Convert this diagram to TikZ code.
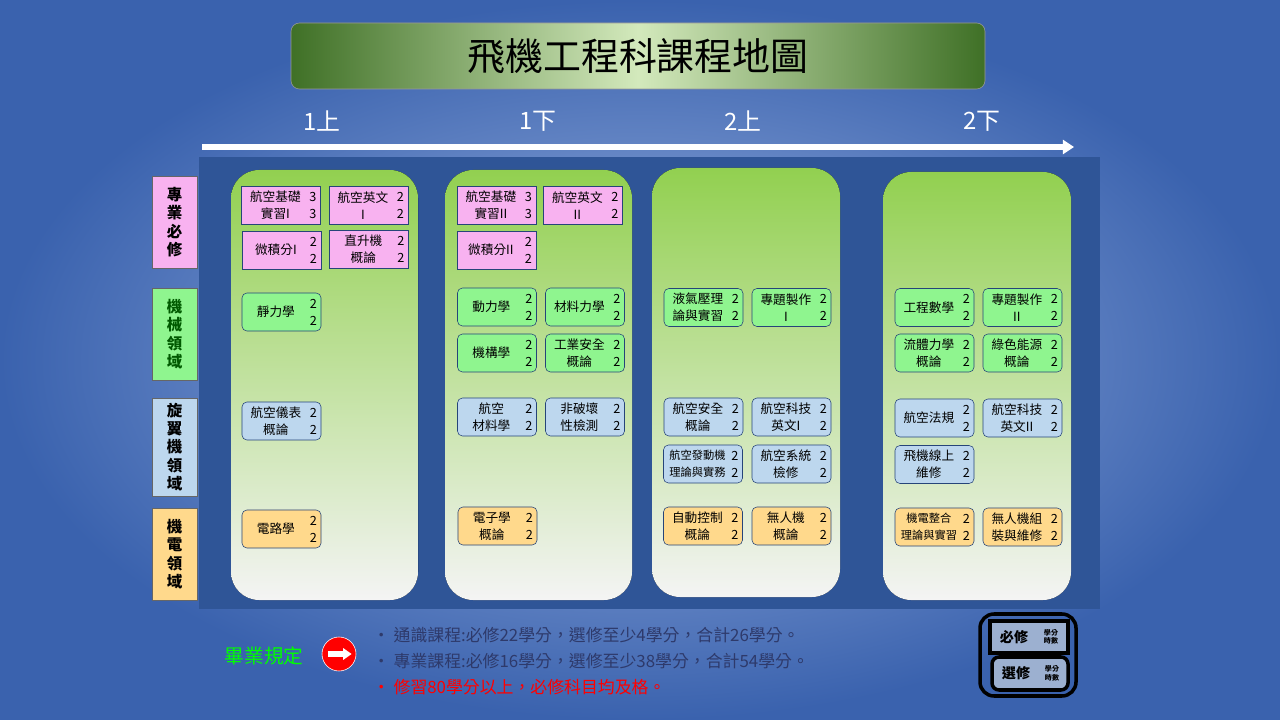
\documentclass[tikz,border=0pt]{standalone}
\usepackage{fontspec}
\setmainfont{Noto Sans CJK TC}
\usetikzlibrary{arrows.meta}
\definecolor{bgin}{HTML}{9DB5E2}
\definecolor{bgout}{HTML}{3A62AE}
\definecolor{panel}{HTML}{2F5597}
\definecolor{colg}{HTML}{92D050}
\definecolor{colw}{HTML}{F4F4F4}
\definecolor{tdark}{HTML}{3F7026}
\definecolor{tlight}{HTML}{D3E9BC}
\definecolor{cpink}{HTML}{F8B2F0}
\definecolor{cgreen}{HTML}{8FF58F}
\definecolor{cblue}{HTML}{BDD7EE}
\definecolor{cyell}{HTML}{FFD98C}
\definecolor{txt}{HTML}{2E3A6B}
\tikzset{ pk/.style = { rectangle % required
, draw = panel!80!black
, fill = cpink
, minimum width = 1.975cm
, minimum height = 0.95cm
}
, gr/.style = { pk % mechanics
, fill = cgreen
, rounded corners = 3.5pt
}
, bl/.style = { gr % rotorcraft
, fill = cblue
}
, ye/.style = { gr % electromech
, fill = cyell
}
, ct/.style = { align = center % course text
, font = \fontsize{9}{12}\selectfont
, inner sep = 0
}
, cat/.style = { rectangle % category
, draw = black!60
, minimum width = 1.125cm
, align = center
, font = \fontsize{11}{13}\selectfont\bfseries
}
, col/.style = { rounded corners = 0.7cm % semester column
, top color = colg
, bottom color = colw
}
, sem/.style = { font = \fontsize{17}{20}\selectfont
, text = white
}
}
% course: style, name, centre, text, credits
\newcommand\course[5]{%
  \node[#1] (#2) at #3 {};
  \node[ct] at ([xshift=-4pt]#2.center) {#4};
  \node[ct, anchor=east, align=right] at ([xshift=-3pt]#2.east) {#5};
}
\begin{document}
\begin{tikzpicture}[x=0.025cm, y=-0.025cm]
\useasboundingbox (0,0) rectangle (1280,720);
\shade[inner color=bgin, outer color=bgout] (0,0) rectangle (1280,720);

% title
\shade[rounded corners=6, left color=tdark, right color=tdark, middle color=tlight, draw=black!40]
  (291,23) rectangle (985,89);
\node[font=\fontsize{27}{30}\selectfont] (title) at (638,56) {飛機工程科課程地圖};

% semesters
\node[sem] (s1) at (322,121) {1上};
\node[sem] (s2) at (538,121) {1下};
\node[sem] (s3) at (743,121) {2上};
\node[sem] (s4) at (982,121) {2下};
\coordinate (a0) at (202,147);
\coordinate (a1) at (1074,147);
\draw[white, line width=4, -{Triangle[length=8pt,width=10pt]}] (a0) -- (a1);

% panel and columns
\fill[panel] (199,157) rectangle (1100,609);
\fill[col] (231,170) rectangle (418,600);
\fill[col] (445,170) rectangle (632,600);
\fill[col] (652,168) rectangle (840,597);
\fill[col] (883,172) rectangle (1071,600);

% categories
\node[cat, fill=cpink, minimum height=2.3cm] (k1) at (174.5,222) {專\\業\\必\\修};
\node[cat, fill=cgreen, minimum height=2.3cm, text=green!35!black] (k2) at (174.5,334) {機\\械\\領\\域};
\node[cat, fill=cblue, minimum height=2.45cm] (k3) at (174.5,447) {旋\\翼\\機\\領\\域};
\node[cat, fill=cyell, minimum height=2.3cm] (k4) at (174.5,554) {機\\電\\領\\域};

% 1上
\course{pk}{c11}{(281,205.5)}{航空基礎\\實習I}{3\\3}
\course{pk}{c12}{(368.5,205.5)}{航空英文\\I}{2\\2}
\course{pk}{c13}{(281.5,250)}{微積分I}{2\\2}
\course{pk}{c14}{(369,249)}{直升機\\概論}{2\\2}
\course{gr}{c15}{(281.5,312)}{靜力學}{2\\2}
\course{bl}{c16}{(281.5,421)}{航空儀表\\概論}{2\\2}
\course{ye}{c17}{(281.5,529)}{電路學}{2\\2}

% 1下
\course{pk}{c21}{(496.5,205.5)}{航空基礎\\實習II}{3\\3}
\course{pk}{c22}{(583,205.5)}{航空英文\\II}{2\\2}
\course{pk}{c23}{(496.5,250)}{微積分II}{2\\2}
\course{gr}{c24}{(497,307)}{動力學}{2\\2}
\course{gr}{c25}{(585,307)}{材料力學}{2\\2}
\course{gr}{c26}{(497,353)}{機構學}{2\\2}
\course{gr}{c27}{(585,353)}{工業安全\\概論}{2\\2}
\course{bl}{c28}{(497,417)}{航空\\材料學}{2\\2}
\course{bl}{c29}{(585,417)}{非破壞\\性檢測}{2\\2}
\course{ye}{c2a}{(497.5,526)}{電子學\\概論}{2\\2}

% 2上
\course{gr}{c31}{(703.5,307.5)}{液氣壓理\\論與實習}{2\\2}
\course{gr}{c32}{(791.5,307.5)}{專題製作\\I}{2\\2}
\course{bl}{c33}{(703.5,417)}{航空安全\\概論}{2\\2}
\course{bl}{c34}{(791.5,417)}{航空科技\\英文I}{2\\2}
\course{bl}{c35}{(703,464)}{\fontsize{8}{11}\selectfont 航空發動機\\\fontsize{8}{11}\selectfont 理論與實務}{2\\2}
\course{bl}{c36}{(791.5,464)}{航空系統\\檢修}{2\\2}
\course{ye}{c37}{(703,526)}{自動控制\\概論}{2\\2}
\course{ye}{c38}{(791.5,526)}{無人機\\概論}{2\\2}

% 2下
\course{gr}{c41}{(934.5,307.5)}{工程數學}{2\\2}
\course{gr}{c42}{(1022.5,307.5)}{專題製作\\II}{2\\2}
\course{gr}{c43}{(934.5,353)}{流體力學\\概論}{2\\2}
\course{gr}{c44}{(1022.5,353)}{綠色能源\\概論}{2\\2}
\course{bl}{c45}{(934.5,418)}{航空法規}{2\\2}
\course{bl}{c46}{(1022.5,418)}{航空科技\\英文II}{2\\2}
\course{bl}{c47}{(934.5,464.5)}{飛機線上\\維修}{2\\2}
\course{ye}{c48}{(934.5,527)}{\fontsize{8}{11}\selectfont 機電整合\\\fontsize{8}{11}\selectfont 理論與實習}{2\\2}
\course{ye}{c49}{(1022.5,527)}{無人機組\\裝與維修}{2\\2}

% graduation rules
\node[font=\fontsize{14}{16}\selectfont, text=green] (rule) at (264,656) {畢業規定};
\node[circle, fill=red, draw=white, minimum size=0.85cm] (stop) at (339,654) {};
\draw[white, line width=4, -{Triangle[length=6pt,width=8pt]}] ([xshift=-8pt]stop.center) -- ([xshift=9pt]stop.center);
\node[anchor=west, text=txt, font=\fontsize{12}{14}\selectfont] (r1) at (368,635) {• 通識課程:必修22學分，選修至少4學分，合計26學分。};
\node[anchor=west, text=txt, font=\fontsize{12}{14}\selectfont] (r2) at (368,661) {• 專業課程:必修16學分，選修至少38學分，合計54學分。};
\node[anchor=west, text=red, font=\fontsize{12}{14}\selectfont] (r3) at (368,687) {• 修習80學分以上，必修科目均及格。};

% legend
\draw[line width=2.5, rounded corners=10] (980,614) rectangle (1076,696);
\draw[line width=2.5, fill=cblue!30!panel!60] (990,621) rectangle (1068,653);
\draw[line width=2.5, rounded corners=5, fill=cblue!30!panel!60] (992,657) rectangle (1068,690);
\node[font=\fontsize{10}{12}\selectfont\bfseries] (l1) at (1014,637) {必修};
\node[font=\fontsize{5}{6}\selectfont\bfseries, align=center] (l1n) at (1051,637) {學分\\時數};
\node[font=\fontsize{10}{12}\selectfont\bfseries] (l2) at (1016,673.5) {選修};
\node[font=\fontsize{5}{6}\selectfont\bfseries, align=center] (l2n) at (1052,673.5) {學分\\時數};
\end{tikzpicture}
\end{document}
